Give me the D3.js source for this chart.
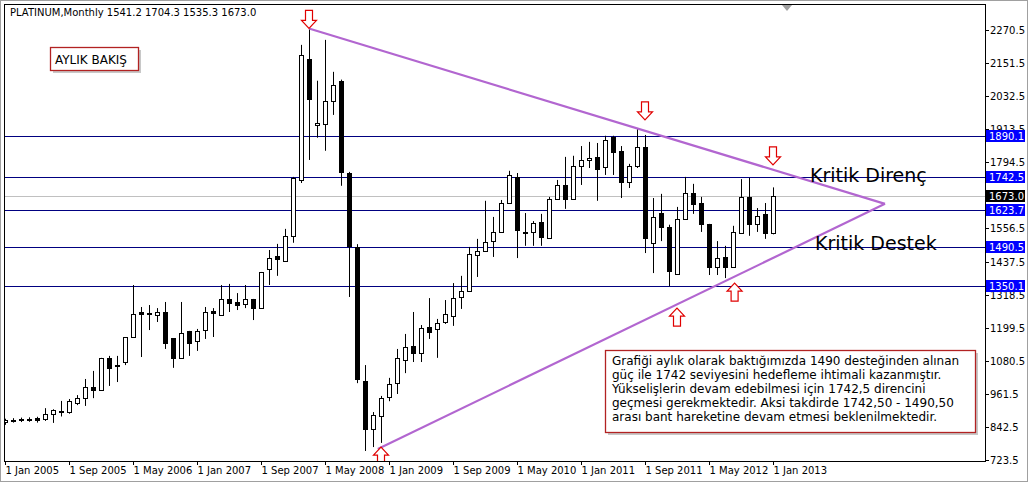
<!DOCTYPE html>
<html>
<head>
<meta charset="utf-8">
<script src="https://cdn.jsdelivr.net/npm/d3@7"></script>
<style>
  body { margin: 0; background: #fff; }
  svg { display: block; font-family: Tahoma, "DejaVu Sans", sans-serif; }
</style>
</head>
<body>
<script>
// monthly candles, Jan 2005 .. Jan 2013
const opens = [860,868,869,870,874,871,889,899,896,928,946,986,975,1091,1062,1076,1166,1256,1249,1245,1256,1162,1091,1188,1151,1191,1260,1245,1303,1292,1285,1303,1270,1411,1458,1440,1530,1731,2166,1930,1933,2016,2088,1756,1490,1008,835,882,950,1000,1083,1134,1109,1202,1195,1220,1242,1310,1332,1461,1476,1512,1544,1648,1742,1542,1544,1580,1522,1663,1713,1663,1782,1803,1814,1778,1886,1836,1724,1782,1850,1504,1612,1562,1393,1591,1684,1648,1573,1418,1454,1418,1540,1670,1573,1609,1541.2];
const highs = [872,874,876,877,879,910,906,936,943,957,1015,1044,1091,1098,1098,1166,1353,1274,1281,1270,1292,1162,1292,1188,1195,1274,1270,1353,1357,1324,1353,1303,1400,1479,1501,1555,1742,2217,2276,2088,2235,2120,2092,1760,1500,1065,896,954,1019,1123,1177,1256,1209,1306,1231,1299,1360,1386,1490,1519,1656,1598,1659,1764,1756,1612,1583,1609,1670,1731,1814,1818,1853,1868,1864,1890,1890,1853,1789,1915,1893,1666,1681,1570,1634,1742,1717,1670,1573,1511,1494,1566,1734,1738,1630,1648,1704.3];
const lows = [850,858,860,861,858,864,857,880,890,921,918,946,975,990,1004,1065,1166,1094,1191,1220,1123,1055,1091,1098,1116,1159,1166,1245,1256,1263,1270,1227,1270,1353,1386,1440,1505,1720,1803,1883,1836,1965,1710,1310,1000,756,770,785,935,961,1036,1076,1076,1159,1091,1213,1206,1267,1328,1382,1472,1454,1544,1648,1450,1494,1494,1494,1522,1663,1627,1663,1713,1774,1656,1749,1749,1666,1702,1774,1468,1396,1511,1349,1393,1591,1609,1544,1389,1389,1378,1418,1540,1530,1544,1519,1535.3];
const closes = [866,869,870,871,866,889,903,901,936,946,986,975,1091,1055,1064,1166,1249,1249,1252,1256,1144,1091,1180,1144,1188,1256,1252,1303,1289,1281,1303,1270,1400,1451,1447,1530,1738,2181,2022,1936,2016,2073,1760,1494,1015,835,885,946,997,1091,1130,1109,1198,1184,1216,1249,1306,1332,1465,1476,1508,1544,1648,1749,1551,1538,1576,1526,1663,1713,1663,1782,1803,1810,1771,1875,1832,1724,1782,1850,1522,1598,1562,1404,1591,1684,1645,1573,1418,1450,1418,1544,1670,1573,1602,1540,1673.0];

const priceTicks = [2270.5,2151.5,2032.5,1913.5,1794.5,1556.5,1437.5,1318.5,1199.5,1080.5,961.5,842.5,723.5];
const levels = [1890.1,1742.5,1623.7,1490.5,1350.1];
const lastPrice = 1673.0;
const dateLabels = ["1 Jan 2005","1 Sep 2005","1 May 2006","1 Jan 2007","1 Sep 2007","1 May 2008","1 Jan 2009","1 Sep 2009","1 May 2010","1 Jan 2011","1 Sep 2011","1 May 2012","1 Jan 2013"];
// trend lines as [bar index, price]
const upperTrend = [[38,2276],[110,1645]];
const lowerTrend = [[46.6,763],[110,1645]];
// arrow tips as [bar index, price]
const downArrows = [[38,2276],[80,1947],[96,1785]];
const upArrows = [[47,770],[84,1270],[91.2,1360]];
const noteLines = [
  "Grafiği aylık olarak baktığımızda 1490 desteğinden alınan",
  "güç ile 1742 seviyesini hedefleme ihtimali kazanmıştır.",
  "Yükselişlerin devam edebilmesi için  1742,5 direncini",
  "geçmesi gerekmektedir. Aksi takdirde 1742,50 - 1490,50",
  "arası bant hareketine devam etmesi beklenilmektedir."
];

const width = 1028, height = 482;
const pLeft = 4, pRight = 985, pTop = 4, pBottom = 461;

const x = d3.scaleLinear().domain([0, 1]).range([5, 13]);
const y = d3.scaleLinear().domain([723.5, 2270.5]).range([460, 30]);

const svg = d3.select("body").append("svg").attr("width", width).attr("height", height);

svg.append("rect").attr("width", width).attr("height", height).attr("fill", "#fff");
svg.append("rect").attr("x", 0.5).attr("y", 0.5).attr("width", width - 1).attr("height", height - 1)
  .attr("fill", "none").attr("stroke", "#a0a0a0");

// price axis
svg.selectAll(".ptick").data(priceTicks).enter().append("g").each(function (d) {
  const g = d3.select(this);
  g.append("line").attr("x1", pRight).attr("x2", pRight + 4).attr("y1", Math.round(y(d)) + 0.5).attr("y2", Math.round(y(d)) + 0.5).attr("stroke", "#000");
  g.append("text").attr("x", pRight + 5).attr("y", y(d) + 4).attr("font-size", 10).text(d.toFixed(1));
});

// time axis
dateLabels.forEach((t, k) => {
  const xx = Math.round(x(k * 8)) + 0.5;
  svg.append("line").attr("x1", xx).attr("x2", xx).attr("y1", pBottom).attr("y2", pBottom + 4).attr("stroke", "#000");
  svg.append("text").attr("x", xx).attr("y", pBottom + 13).attr("font-size", 10).text(t);
});

const plot = svg.append("g");
plot.append("defs").append("clipPath").attr("id", "clip").append("rect")
  .attr("x", pLeft).attr("y", pTop).attr("width", pRight - pLeft).attr("height", pBottom - pTop);
const inner = plot.append("g").attr("clip-path", "url(#clip)");

// last price line
inner.append("line").attr("x1", pLeft).attr("x2", pRight)
  .attr("y1", Math.round(y(lastPrice)) + 0.5).attr("y2", Math.round(y(lastPrice)) + 0.5).attr("stroke", "#c0c0c0");

// horizontal levels
inner.selectAll(".lvl").data(levels).enter().append("line")
  .attr("x1", pLeft).attr("x2", pRight)
  .attr("y1", d => Math.round(y(d)) + 0.5).attr("y2", d => Math.round(y(d)) + 0.5)
  .attr("stroke", "#000080").attr("stroke-width", 1);

// candles
const idx = d3.range(opens.length);
inner.selectAll(".wick").data(idx).enter().append("line")
  .attr("x1", i => Math.round(x(i)) + 0.5).attr("x2", i => Math.round(x(i)) + 0.5)
  .attr("y1", i => y(highs[i])).attr("y2", i => y(lows[i])).attr("stroke", "#000");
inner.selectAll(".body").data(idx).enter().append("rect")
  .attr("x", i => Math.round(x(i)) - 2 + 0.5)
  .attr("y", i => Math.round(y(Math.max(opens[i], closes[i]))) + 0.5)
  .attr("width", 4)
  .attr("height", i => Math.max(1, Math.round(Math.abs(y(opens[i]) - y(closes[i])))))
  .attr("fill", i => closes[i] >= opens[i] ? "#fff" : "#000")
  .attr("stroke", "#000");

// trend lines
[upperTrend, lowerTrend].forEach(tl => {
  inner.append("line")
    .attr("x1", x(tl[0][0])).attr("y1", y(tl[0][1]))
    .attr("x2", x(tl[1][0])).attr("y2", y(tl[1][1]))
    .attr("stroke", "#b266d0").attr("stroke-width", 2.2);
});

// arrows
function arrowPath(cx, tipY, dir) {
  // dir 1 = pointing down (tip at bottom), -1 = pointing up
  const s = dir;
  const b = tipY - s * 18;
  const h = tipY - s * 8;
  return `M${cx - 3.5},${b} L${cx + 3.5},${b} L${cx + 3.5},${h} L${cx + 7.5},${h} L${cx},${tipY} L${cx - 7.5},${h} L${cx - 3.5},${h} Z`;
}
downArrows.forEach(a => {
  inner.append("path").attr("d", arrowPath(x(a[0]), y(a[1]), 1))
    .attr("fill", "#fff").attr("stroke", "#e00000").attr("stroke-width", 1.2);
});
upArrows.forEach(a => {
  inner.append("path").attr("d", arrowPath(x(a[0]), y(a[1]), -1))
    .attr("fill", "#fff").attr("stroke", "#e00000").attr("stroke-width", 1.2);
});

// labels
inner.append("text").attr("x", 810).attr("y", 182)
  .attr("font-size", 19).text("Kritik Direnç");
inner.append("text").attr("x", 815).attr("y", 250)
  .attr("font-size", 19).text("Kritik Destek");

// boxes
function noteBox(bx, by, bw, bh) {
  inner.append("rect").attr("x", bx + 3).attr("y", by + 3).attr("width", bw).attr("height", bh).attr("fill", "#c8c8c8");
  inner.append("rect").attr("x", bx + 0.5).attr("y", by + 0.5).attr("width", bw).attr("height", bh)
    .attr("fill", "#fff").attr("stroke", "#b22222").attr("stroke-width", 1.3);
}
noteBox(50, 47, 88, 23);
inner.append("text").attr("x", 55).attr("y", 64).attr("font-size", 12).text("AYLIK BAKIŞ");

noteBox(605, 350, 370, 82);
inner.selectAll(".note").data(noteLines).enter().append("text")
  .attr("x", 612).attr("y", (d, k) => 365 + k * 14)
  .attr("font-size", 12).text(d => d);

// level labels on price axis
levels.forEach(v => {
  const yy = Math.round(y(v));
  svg.append("rect").attr("x", pRight + 1).attr("y", yy - 6).attr("width", 39).attr("height", 12).attr("fill", "#0000ff");
  svg.append("text").attr("x", pRight + 4).attr("y", yy + 4).attr("font-size", 10).attr("fill", "#fff").text(v.toFixed(1));
});
{
  const yy = Math.round(y(lastPrice));
  svg.append("rect").attr("x", pRight + 1).attr("y", yy - 6).attr("width", 39).attr("height", 12).attr("fill", "#000");
  svg.append("text").attr("x", pRight + 4).attr("y", yy + 4).attr("font-size", 10).attr("fill", "#fff").text(lastPrice.toFixed(1));
}

// frame
svg.append("rect").attr("x", pLeft + 0.5).attr("y", pTop + 0.5).attr("width", pRight - pLeft).attr("height", pBottom - pTop)
  .attr("fill", "none").attr("stroke", "#000");
svg.append("path").attr("d", "M782,5 L792,5 L787,11 Z").attr("fill", "#a0a0a0");

svg.append("text").attr("x", 10).attr("y", 16).attr("font-size", 10)
  .text("PLATINUM,Monthly  1541.2 1704.3 1535.3 1673.0");
</script>
</body>
</html>
